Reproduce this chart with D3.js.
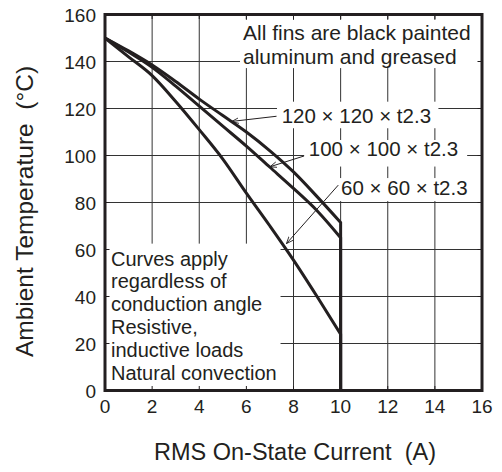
<!DOCTYPE html>
<html>
<head>
<meta charset="utf-8">
<script src="https://cdn.jsdelivr.net/npm/d3@7"></script>
<style>
	body { margin: 0; background: #fff; }
	text { font-family: "Liberation Sans", Arial, Helvetica, sans-serif; fill: #231f20; }
</style>
</head>
<body>
<div class="chart"></div>
<script>
// RMS on-state current (A) where the curves are sampled
var currents = [0, 1, 2, 3, 4, 5, 6, 7, 8, 9, 10];
// ambient temperature (°C) for each fin size
var fin120 = [150, 144.5, 138.5, 131.5, 124, 117, 110, 102, 93, 82.5, 71.5];
var fin100 = [150, 144, 137.5, 129.5, 121, 112.5, 104, 95, 86, 76.5, 65];
var fin60 = [150, 142, 134, 123, 111, 98.5, 84, 70, 55.5, 40, 24];
var curveEnd = [10, 0];

var xTicks = [0, 2, 4, 6, 8, 10, 12, 14, 16];
var yTicks = [0, 20, 40, 60, 80, 100, 120, 140, 160];

var finLabels = ["120 \u00d7 120 \u00d7 t2.3", "100 \u00d7 100 \u00d7 t2.3", "60 \u00d7 60 \u00d7 t2.3"];
var topNote = ["All fins are black painted", "aluminum and greased"];
var sideNote = ["Curves apply", "regardless of", "conduction angle", "Resistive,", "inductive loads", "Natural convection"];

drawChart();

function drawChart() {
	var W = 502, H = 472;
	var left = 105, right = 482, top = 14.5, bottom = 390.5;

	var svg = d3.select(".chart")
				.append("svg")
				.attr("width", W)
				.attr("height", H);

	var x = d3.scaleLinear().domain([0, 16]).range([left, right]);
	var y = d3.scaleLinear().domain([0, 160]).range([bottom, top]);
	var ink = "#231f20";

	svg.append("defs").append("marker")
		.attr("id", "arr")
		.attr("viewBox", "0 0 10 10")
		.attr("refX", 10).attr("refY", 5)
		.attr("markerWidth", 7).attr("markerHeight", 7)
		.attr("markerUnits", "userSpaceOnUse")
		.attr("orient", "auto")
		.append("path")
		.attr("d", "M0,1 L10,5 L0,9")
		.attr("fill", "none")
		.attr("stroke", ink)
		.attr("stroke-width", 1.2);

	// grid
	var grid = svg.append("g");
	grid.selectAll(".gx").data(xTicks).enter().append("line")
		.attr("x1", d => x(d)).attr("x2", d => x(d))
		.attr("y1", top).attr("y2", bottom)
		.attr("stroke", "#333").attr("stroke-width", 1);
	grid.selectAll(".gy").data(yTicks).enter().append("line")
		.attr("x1", left).attr("x2", right)
		.attr("y1", d => y(d)).attr("y2", d => y(d))
		.attr("stroke", "#333").attr("stroke-width", 1);

	// white boxes behind the notes
	var boxes = [
		[x(5.73), y(157.7), x(15.83), y(137.2)],
		[x(0), y(62.5), x(7.45), y(0)],
		[x(7.3), y(122.9), x(14.15), y(111.6)],
		[x(8.45), y(106.6), x(15.37), y(95.3)],
		[x(9.85), y(90.4), x(15.75), y(80.6)]
	];
	svg.selectAll(".box").data(boxes).enter().append("rect")
		.attr("x", d => d[0]).attr("y", d => d[1])
		.attr("width", d => d[2] - d[0]).attr("height", d => d[3] - d[1])
		.attr("fill", "#fff");

	// inward ticks on all four sides
	var tk = 4.5;
	var ticks = svg.append("g").attr("stroke", ink).attr("stroke-width", 1);
	xTicks.forEach(function(d) {
		ticks.append("line").attr("x1", x(d)).attr("x2", x(d)).attr("y1", bottom).attr("y2", bottom - tk);
		ticks.append("line").attr("x1", x(d)).attr("x2", x(d)).attr("y1", top).attr("y2", top + tk);
	});
	yTicks.forEach(function(d) {
		ticks.append("line").attr("x1", left).attr("x2", left + tk).attr("y1", y(d)).attr("y2", y(d));
		ticks.append("line").attr("x1", right).attr("x2", right - tk).attr("y1", y(d)).attr("y2", y(d));
	});

	// frame
	svg.append("rect")
		.attr("x", left).attr("y", top)
		.attr("width", right - left).attr("height", bottom - top)
		.attr("fill", "none").attr("stroke", ink).attr("stroke-width", 3);

	// tick labels
	svg.selectAll(".xl").data(xTicks).enter().append("text")
		.attr("x", d => x(d)).attr("y", 413)
		.attr("text-anchor", "middle")
		.attr("font-size", 19)
		.text(d => d);
	svg.selectAll(".yl").data(yTicks).enter().append("text")
		.attr("x", 96).attr("y", d => y(d) + 7)
		.attr("text-anchor", "end")
		.attr("font-size", 19)
		.text(d => d);

	// curves
	var line = d3.line()
				.x(d => x(d[0]))
				.y(d => y(d[1]))
				.curve(d3.curveMonotoneX);
	[fin120, fin100, fin60].forEach(function(series) {
		var pts = currents.map((c, i) => [c, series[i]]);
		svg.append("path")
			.attr("d", line(pts) + "L" + x(curveEnd[0]) + "," + y(curveEnd[1]))
			.attr("fill", "none")
			.attr("stroke", ink)
			.attr("stroke-width", 3)
			.attr("stroke-linejoin", "miter");
	});

	// leaders
	var leaders = [
		[[7.28, 116.7], [5.38, 114.5]],
		[[8.45, 99.8], [7.0, 95.2]],
		[[9.9, 87.4], [7.7, 62.5]]
	];
	leaders.forEach(function(l) {
		svg.append("line")
			.attr("x1", x(l[0][0])).attr("y1", y(l[0][1]))
			.attr("x2", x(l[1][0])).attr("y2", y(l[1][1]))
			.attr("stroke", ink).attr("stroke-width", 1)
			.attr("marker-end", "url(#arr)");
	});

	// fin labels
	var labelPos = [[7.5, 113.9], [8.65, 99.8], [10.02, 83.0]];
	svg.selectAll(".fl").data(finLabels).enter().append("text")
		.attr("x", (d, i) => x(labelPos[i][0]))
		.attr("y", (d, i) => y(labelPos[i][1]))
		.attr("font-size", 20.5)
		.text(d => d);

	// notes
	svg.selectAll(".tn").data(topNote).enter().append("text")
		.attr("x", 243)
		.attr("y", (d, i) => 39.5 + i * 24)
		.attr("font-size", 21)
		.text(d => d);
	svg.selectAll(".sn").data(sideNote).enter().append("text")
		.attr("x", 111)
		.attr("y", (d, i) => 265.5 + i * 22.9)
		.attr("font-size", 20)
		.text(d => d);

	// axis titles
	svg.append("text")
		.attr("x", 295).attr("y", 460)
		.attr("text-anchor", "middle")
		.attr("font-size", 23.5)
		.attr("xml:space", "preserve")
		.text("RMS On-State Current  (A)");
	svg.append("text")
		.attr("transform", "translate(33,211.5) rotate(-90)")
		.attr("text-anchor", "middle")
		.attr("font-size", 24.5)
		.attr("xml:space", "preserve")
		.text("Ambient Temperature  (\u00b0C)");
}
</script>
</body>
</html>
